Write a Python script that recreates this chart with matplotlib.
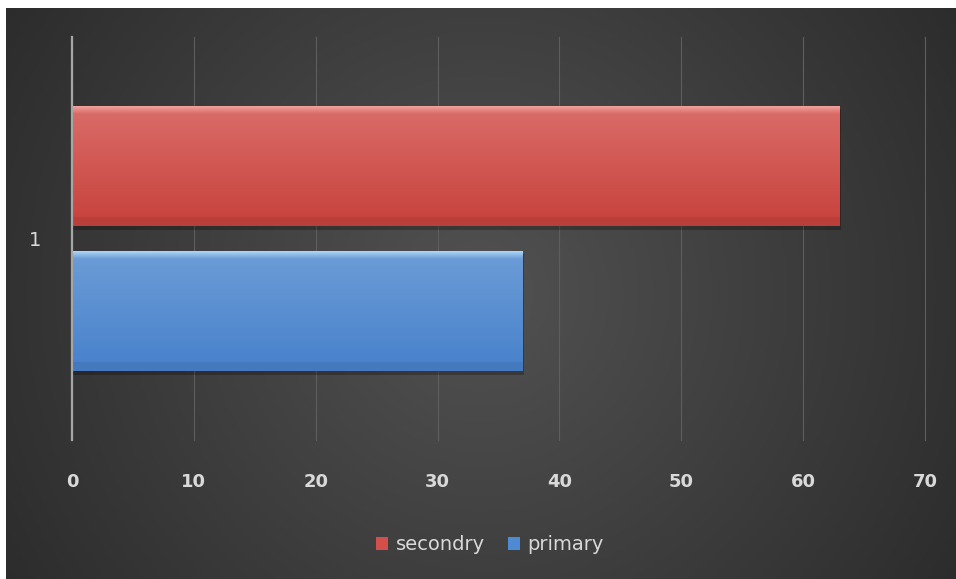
import numpy as np
import matplotlib
matplotlib.use('Agg')
import matplotlib.pyplot as plt
from matplotlib.patches import Patch
from matplotlib.colors import to_rgb

categories = ['1']
secondry = [63]
primary = [37]
xticks = [0, 10, 20, 30, 40, 50, 60, 70]

fig = plt.figure(figsize=(9.56, 5.79), dpi=100)
fig.patch.set_facecolor('white')

# dark background, lighter in the middle
bg = fig.add_axes([6 / 956, 0, 950 / 956, 571 / 579])
bg.set_axis_off()
xx, yy = np.meshgrid(np.linspace(-1, 1, 400), np.linspace(-1, 1, 250))
r = np.sqrt(xx ** 2 + (yy * 0.6) ** 2)
shade = 0.32 - 0.15 * np.clip(r, 0, 1.2) / 1.2
bg.imshow(np.dstack([shade] * 3), aspect='auto', extent=[0, 1, 0, 1])
bg.set_xlim(0, 1)
bg.set_ylim(0, 1)

ax = fig.add_axes([72 / 956, 139 / 579, 853 / 956, 403 / 579])
ax.set_facecolor('none')

h = 0.30
off = 0.18
y = np.arange(len(categories))


def gradient_bar(ax, ypos, vals, top, mid, bot):
    bars = ax.barh(ypos, vals, height=h, color=mid, zorder=3)
    c_top, c_mid, c_bot = (np.array(to_rgb(c)) for c in (top, mid, bot))
    t = np.linspace(0, 1, 120)
    rows = []
    for v in t:
        if v < 0.07:
            rows.append(c_top + (c_mid - c_top) * v / 0.07)
        elif v < 0.93:
            rows.append(c_mid + (c_bot - c_mid) * (v - 0.07) / 0.86)
        else:
            rows.append(c_bot * 0.93)
    g = np.array(rows).reshape(-1, 1, 3)
    for b in bars:
        x0, y0 = b.get_x(), b.get_y()
        w, hh = b.get_width(), b.get_height()
        # soft shadow under the bar
        ax.barh(y0 + hh / 2 - 0.008, w + 0.12, height=hh, left=x0,
                color='black', alpha=0.25, zorder=2)
        im = ax.imshow(g, aspect='auto', extent=[x0, x0 + w, y0, y0 + hh],
                       origin='upper', zorder=4, interpolation='bilinear')
        im.set_clip_path(b)
    return bars


gradient_bar(ax, y + off, secondry, '#f4a7a2', '#d96a66', '#c9443f')
gradient_bar(ax, y - off, primary, '#b4dcfa', '#6a9bd6', '#4a83cc')

ax.set_xlim(0, 70)
ax.set_ylim(-0.5, 0.5)
ax.set_xticks(xticks)
ax.set_xticklabels([str(v) for v in xticks], color='#d9d9d9', fontsize=13,
                   fontweight='bold')
ax.set_yticks(y)
ax.set_yticklabels(categories, color='#d9d9d9', fontsize=14)
ax.tick_params(axis='x', length=0, pad=24)
ax.tick_params(axis='y', length=0, pad=22)
ax.grid(axis='x', color='#5e5e5e', linewidth=0.8, zorder=0)
for gl in ax.get_xgridlines():
    gl.set_clip_on(False)
for s in ['top', 'right', 'bottom']:
    ax.spines[s].set_visible(False)
ax.spines['left'].set_color('#a6a6a6')
ax.spines['left'].set_linewidth(1.6)
ax.spines['left'].set_zorder(5)

handles = [Patch(facecolor='#d24f4b', label='secondry'),
           Patch(facecolor='#4f8ad2', label='primary')]
fig.legend(handles=handles, loc='center', bbox_to_anchor=(490 / 956, 1 - 545 / 579),
           ncol=2, frameon=False, fontsize=14, labelcolor='#d9d9d9',
           handlelength=0.6, handleheight=0.6, handletextpad=0.4, columnspacing=1.2)

plt.savefig('out.png', dpi=100, facecolor=fig.get_facecolor())
